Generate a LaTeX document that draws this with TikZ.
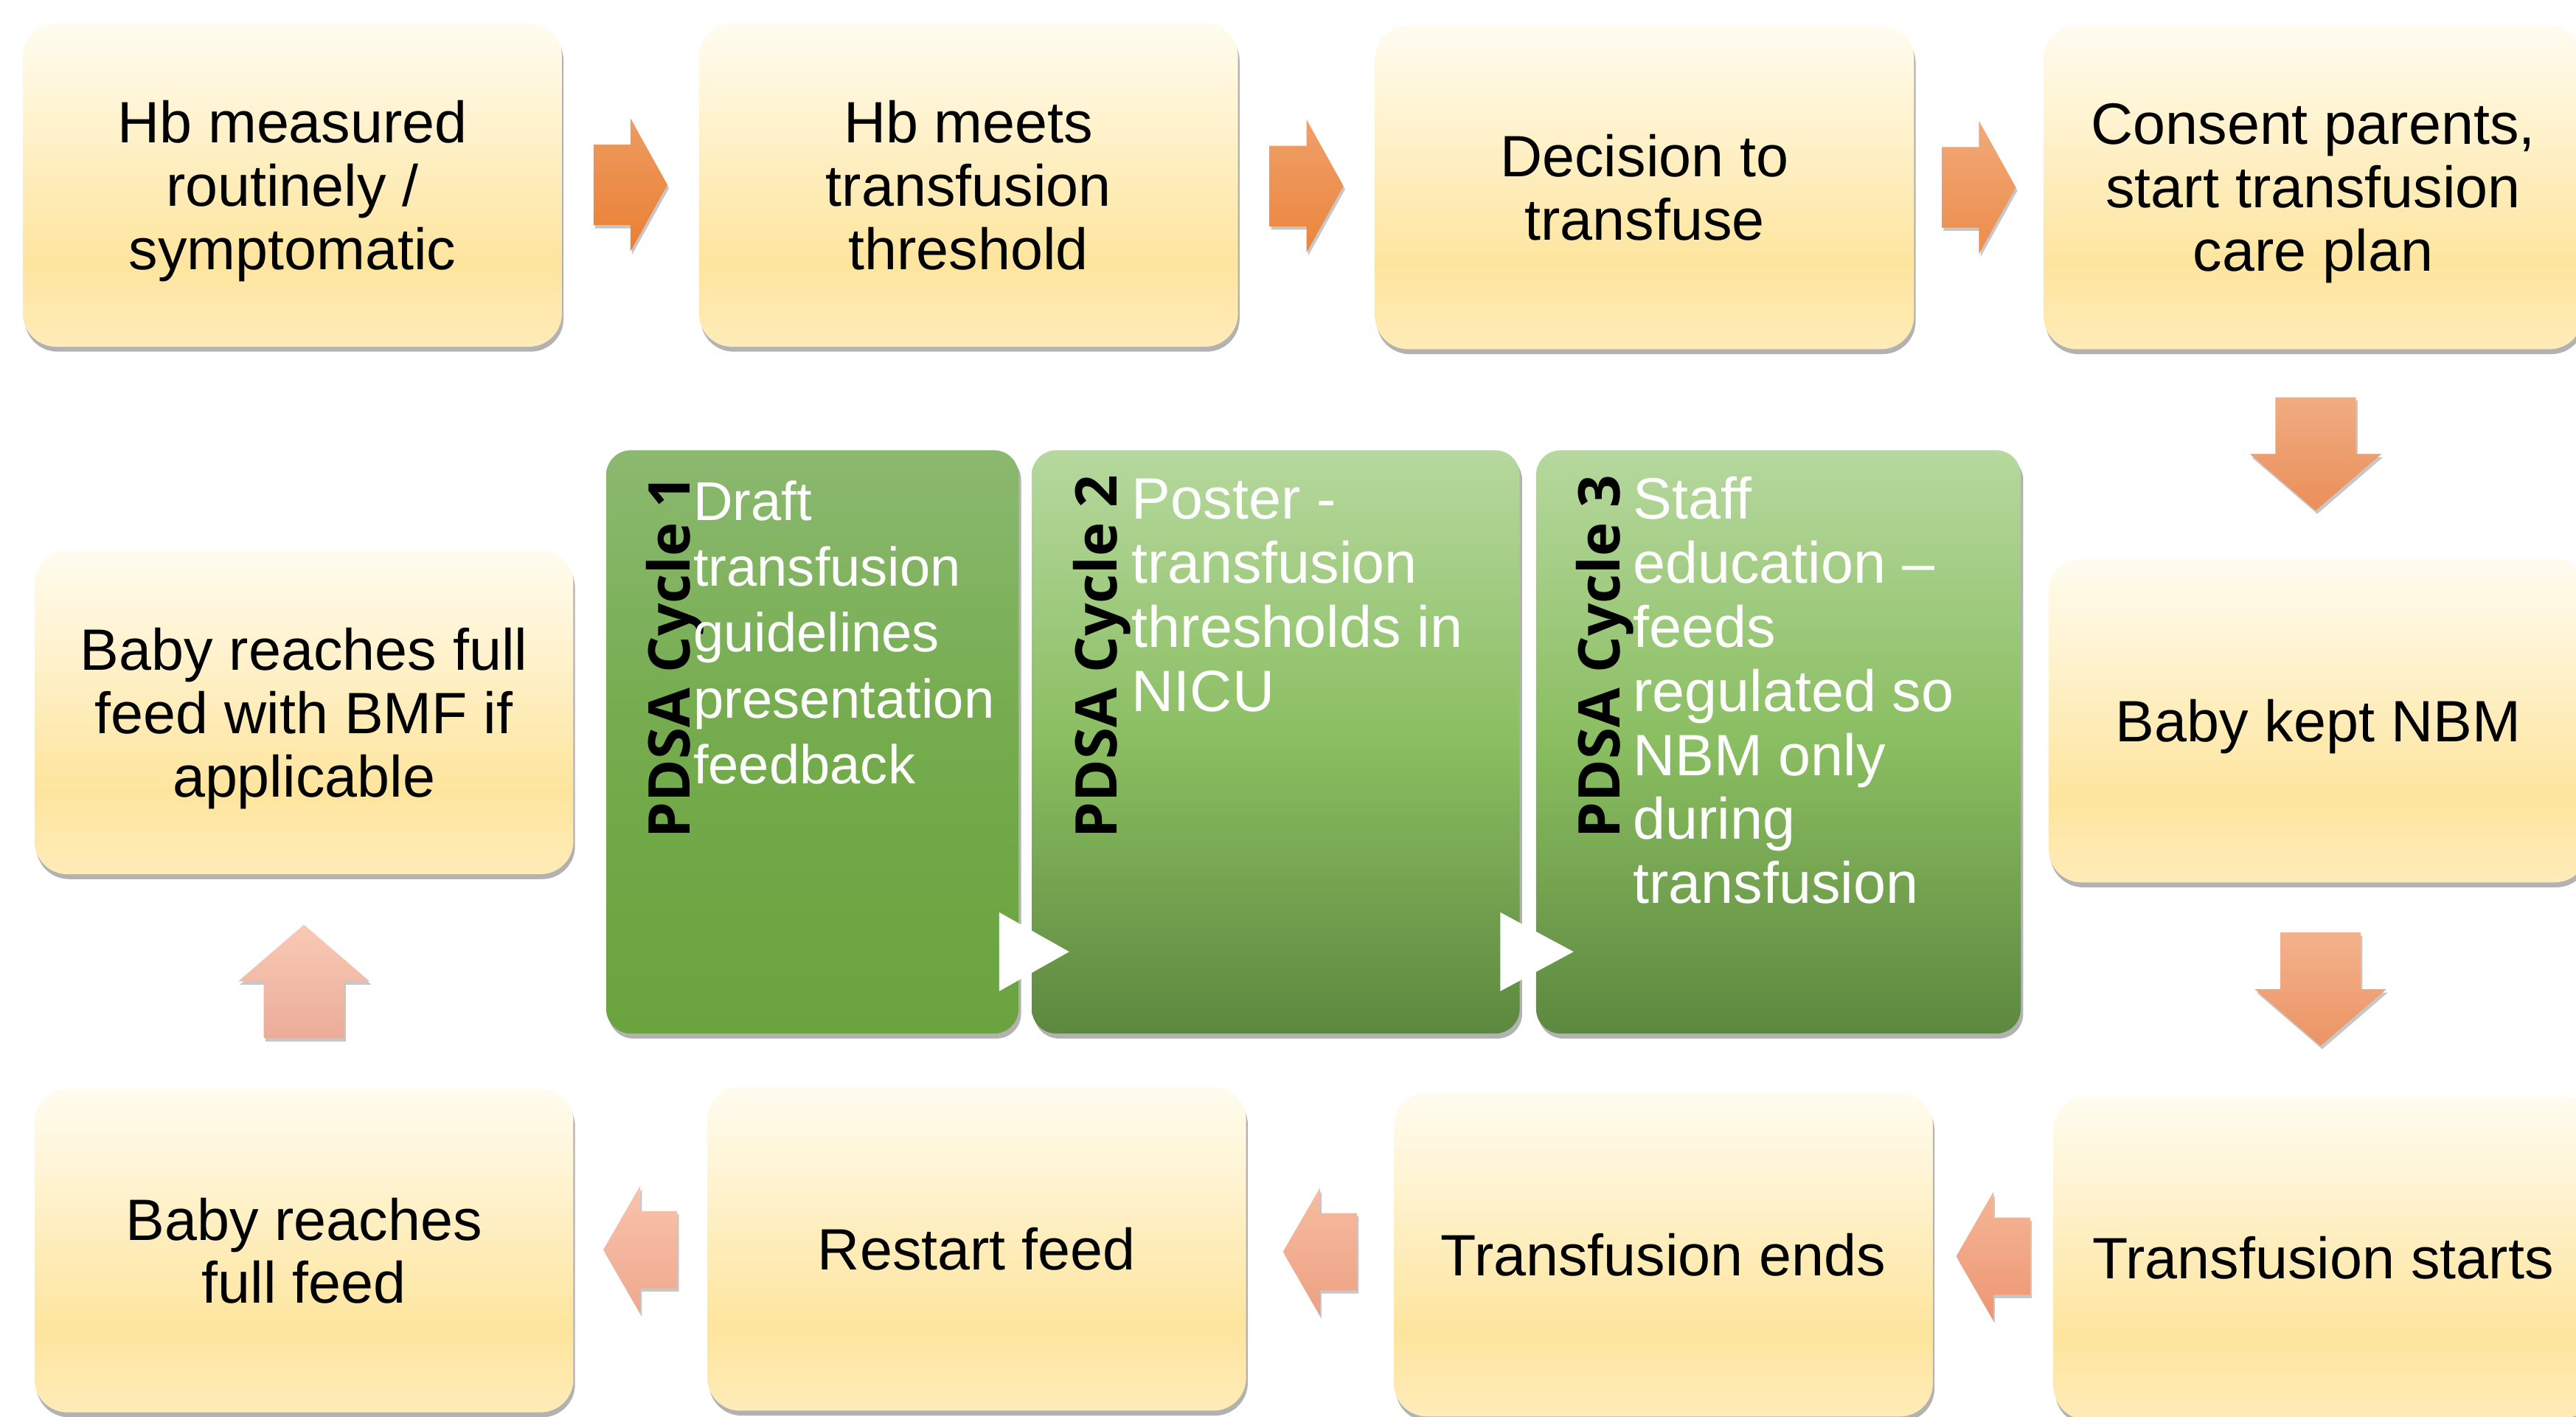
\documentclass[tikz,border=0pt]{standalone}
\usepackage{fontspec}
\setmainfont{Liberation Sans}
\newfontfamily\lblfont{Open Sans}
\usetikzlibrary{shadows,calc}

\definecolor{ytop}{RGB}{255,252,240}
\definecolor{ymid}{RGB}{254,229,158}
\definecolor{ybot}{RGB}{254,235,184}
\definecolor{gAtop}{RGB}{139,185,112}
\definecolor{gAmid}{RGB}{116,171,76}
\definecolor{gAbot}{RGB}{107,163,63}
\definecolor{gBtop}{RGB}{182,216,158}
\definecolor{gBmid}{RGB}{138,190,97}
\definecolor{gBbot}{RGB}{93,136,63}

\definecolor{a1t}{RGB}{238,155,98}\definecolor{a1b}{RGB}{234,128,50}
\definecolor{a2t}{RGB}{239,160,105}\definecolor{a2b}{RGB}{235,133,60}
\definecolor{a3t}{RGB}{241,170,120}\definecolor{a3b}{RGB}{236,140,75}
\definecolor{a4t}{RGB}{241,172,130}\definecolor{a4b}{RGB}{235,143,90}
\definecolor{a5t}{RGB}{243,178,140}\definecolor{a5b}{RGB}{236,148,100}
\definecolor{a6t}{RGB}{245,182,150}\definecolor{a6b}{RGB}{237,150,115}
\definecolor{a7t}{RGB}{246,188,160}\definecolor{a7b}{RGB}{238,160,130}
\definecolor{a8t}{RGB}{248,196,172}\definecolor{a8b}{RGB}{239,168,142}
\definecolor{a9t}{RGB}{248,202,182}\definecolor{a9b}{RGB}{235,172,152}

\pgfdeclareverticalshading{yellowbox}{100bp}{color(0bp)=(ybot); color(25bp)=(ybot); color(38bp)=(ymid); color(75bp)=(ytop); color(100bp)=(ytop)}
\pgfdeclareverticalshading{greenA}{100bp}{color(0bp)=(gAbot); color(25bp)=(gAbot); color(50bp)=(gAmid); color(75bp)=(gAtop); color(100bp)=(gAtop)}
\pgfdeclareverticalshading{greenB}{100bp}{color(0bp)=(gBbot); color(25bp)=(gBbot); color(50bp)=(gBmid); color(75bp)=(gBtop); color(100bp)=(gBtop)}

\tikzset{
  ashadow/.style={drop shadow={shadow xshift=1pt, shadow yshift=-2pt, opacity=0.22, fill=black}},
  ybox/.style={rectangle, rounded corners=20pt, minimum width=328pt, minimum height=197pt,
    shade, shading=yellowbox, align=center, inner sep=0pt, text depth=0pt,
    font=\fontsize{35.5}{38.5}\selectfont,
    drop shadow={shadow xshift=1pt, shadow yshift=-3pt, opacity=0.3, fill=black}},
  gbox/.style={rectangle, rounded corners=15pt, minimum height=355pt, shade, inner sep=0pt,
    drop shadow={shadow xshift=1.5pt, shadow yshift=-3pt, opacity=0.3, fill=black}},
  plabel/.style={rotate=90, inner sep=0pt, font=\lblfont\bfseries\fontsize{35}{40}\selectfont},
  gtext/.style={inner sep=0pt, text=white, anchor=base west}
}

\newcommand\ArrR[3]{\begin{scope}[shift={(#1)}]\shade[top color=#2, bottom color=#3, ashadow]
  (-22.5,-24.5) -- (0,-24.5) -- (0,-40.5) -- (22.5,0) -- (0,40.5) -- (0,24.5) -- (-22.5,24.5) -- cycle;\end{scope}}
\newcommand\ArrL[3]{\begin{scope}[shift={(#1)}]\shade[top color=#2, bottom color=#3, ashadow]
  (22.5,-23.5) -- (0,-23.5) -- (0,-39) -- (-22.5,0) -- (0,39) -- (0,23.5) -- (22.5,23.5) -- cycle;\end{scope}}
\newcommand\ArrD[3]{\begin{scope}[shift={(#1)}]\shade[top color=#2, bottom color=#3, ashadow]
  (-24.5,34.5) -- (24.5,34.5) -- (24.5,0) -- (40,0) -- (0,-34.5) -- (-40,0) -- (-24.5,0) -- cycle;\end{scope}}
\newcommand\ArrU[3]{\begin{scope}[shift={(#1)}]\shade[top color=#2, bottom color=#3, ashadow]
  (-24.5,-34.5) -- (24.5,-34.5) -- (24.5,0) -- (40,0) -- (0,34.5) -- (-40,0) -- (-24.5,0) -- cycle;\end{scope}}

\begin{document}
\begin{tikzpicture}[x=1pt,y=1pt]
\useasboundingbox (0,0) rectangle (1568,862);
\fill[white] (0,0) rectangle (1568,862);

% yellow boxes
\node[ybox] (b1) at (178,749.5) {Hb measured\\routinely /\\symptomatic};
\node[ybox] (b2) at (589.5,749.5) {Hb meets\\transfusion\\threshold};
\node[ybox] (b3) at (1001,748) {Decision to\\transfuse};
\node[ybox] (b4) at (1408,748) {Consent parents,\\start transfusion\\care plan};
\node[ybox] (nbm) at (1411,423.5) {Baby kept NBM};
\node[ybox] (ts) at (1414,96.5) {Transfusion starts};
\node[ybox] (te) at (1012.5,98.5) {Transfusion ends};
\node[ybox] (rf) at (594.5,102) {Restart feed};
\node[ybox] (bf) at (185,101) {Baby reaches\\full feed};
\node[ybox] (bmf) at (185,428.5) {Baby reaches full\\feed with BMF if\\applicable};

% connector arrows
\coordinate (m1) at ($(b1.east)!0.5!(b2.west)$);
\coordinate (m2) at ($(b2.east)!0.5!(b3.west)$);
\coordinate (m3) at ($(b3.east)!0.5!(b4.west)$);
\coordinate (m4) at ($(b4.south)!0.5!(nbm.north)$);
\coordinate (m5) at ($(nbm.south)!0.5!(ts.north)$);
\coordinate (m6) at ($(ts.west)!0.5!(te.east)$);
\coordinate (m7) at ($(te.west)!0.5!(rf.east)$);
\coordinate (m8) at ($(rf.west)!0.5!(bf.east)$);
\coordinate (m9) at ($(bf.north)!0.5!(bmf.south)$);
\ArrR{m1}{a1t}{a1b}
\ArrR{m2}{a2t}{a2b}
\ArrR{m3}{a3t}{a3b}
\ArrD{m4}{a4t}{a4b}
\ArrD{m5}{a5t}{a5b}
\ArrL{m6}{a6t}{a6b}
\ArrL{m7}{a7t}{a7b}
\ArrL{m8}{a8t}{a8b}
\ArrU{m9}{a9t}{a9b}

% PDSA boxes
\node[gbox, shading=greenA, minimum width=251pt] (g1) at (494.5,410.5) {};
\node[gbox, shading=greenB, minimum width=297pt] (g2) at (776.5,410.5) {};
\node[gbox, shading=greenB, minimum width=295pt] (g3) at (1082.5,410.5) {};

\fill[white] ($(g1.south east)+(-12,74)$) -- ($(g1.south east)+(-12,26)$) -- ($(g2.south west)+(23,50)$) -- cycle;
\fill[white] ($(g2.south east)+(-12,74)$) -- ($(g2.south east)+(-12,26)$) -- ($(g3.south west)+(23,50)$) -- cycle;

\node[plabel, anchor=base east] (l1) at ($(g1.north west)+(51,-15)$) {PDSA Cycle 1};
\node[plabel, anchor=base east] (l2) at ($(g2.north west)+(52,-15)$) {PDSA Cycle 2};
\node[plabel, anchor=base east] (l3) at ($(g3.north west)+(51,-15)$) {PDSA Cycle 3};

\node[gtext] (t1) at ($(g1.north west)+(53,-43)$) {\parbox[t]{240pt}{\raggedright\fontsize{33.3}{40}\selectfont Draft\\transfusion\\guidelines\\presentation\\feedback}};
\node[gtext] (t2) at ($(g2.north west)+(61,-42)$) {\parbox[t]{240pt}{\raggedright\fontsize{35.5}{39}\selectfont Poster -\\transfusion\\thresholds in\\NICU}};
\node[gtext] (t3) at ($(g3.north west)+(59,-42)$) {\parbox[t]{240pt}{\raggedright\fontsize{35.5}{39}\selectfont Staff\\education --\\feeds\\regulated so\\NBM only\\during\\transfusion}};
\end{tikzpicture}
\end{document}
